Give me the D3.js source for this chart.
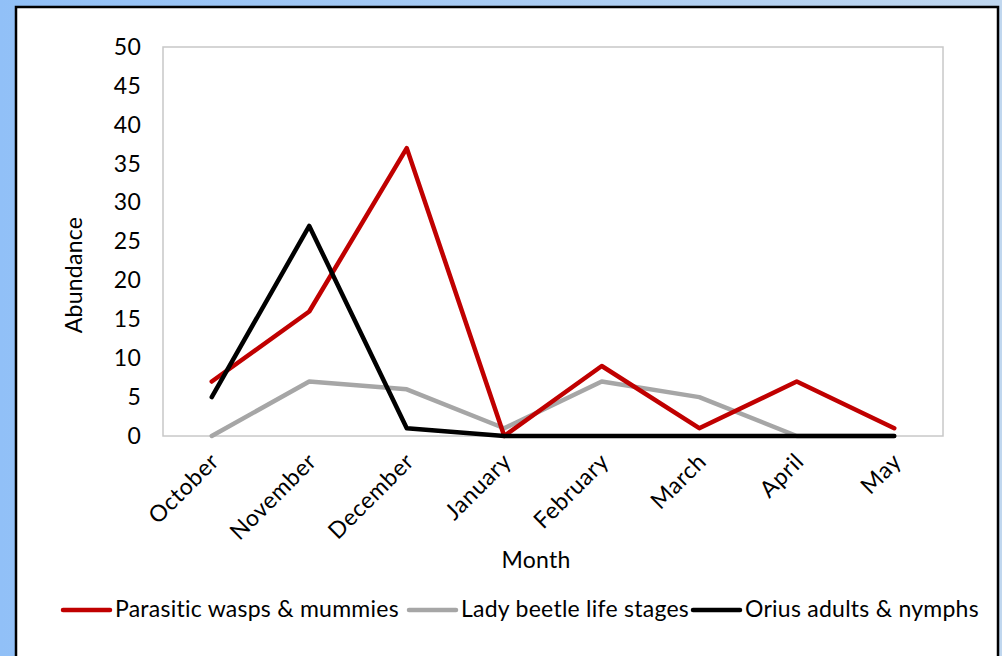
<!DOCTYPE html>
<html>
<head>
<meta charset="utf-8">
<script src="https://cdn.jsdelivr.net/npm/d3@7"></script>
<style>
html,body{margin:0;padding:0;overflow:hidden;background:#fff;}
svg{display:block;}
text{font-family:Lato,"Open Sans",sans-serif;fill:#000;}
</style>
</head>
<body>
<svg id="chart" width="1002" height="656"></svg>
<script>
const months = ["October","November","December","January","February","March","April","May"];
const parasitic = [7,16,37,0,9,1,7,1];
const ladyBeetle = [0,7,6,1,7,5,0,0];
const orius = [5,27,1,0,0,0,0,0];
const yTicks = [0,5,10,15,20,25,30,35,40,45,50];
const seriesNames = ["Parasitic wasps & mummies","Lady beetle life stages","Orius adults & nymphs"];
const seriesColors = ["#c00000","#a6a6a6","#000000"];

const FS = "23px", LS = "0.25px";
const svg = d3.select("#chart");
const defs = svg.append("defs");
const grad = defs.append("linearGradient").attr("id","bg").attr("x1","0").attr("y1","0").attr("x2","1").attr("y2","0");
grad.append("stop").attr("offset","0").attr("stop-color","#91c0f7");
grad.append("stop").attr("offset","1").attr("stop-color","#c0d7ef");
svg.append("rect").attr("x",0).attr("y",0).attr("width",1002).attr("height",656).attr("fill","url(#bg)");
svg.append("rect").attr("x",16).attr("y",7).attr("width",982).attr("height",700)
  .attr("fill","#fff").attr("stroke","#000").attr("stroke-width",2.5);

const L=163,R=943,T=47,B=436;
const x = d3.scalePoint().domain(months).range([L,R]).padding(0.5);
const y = d3.scaleLinear().domain([0,50]).range([B,T]);

// plot frame
svg.append("rect").attr("x",L).attr("y",T).attr("width",R-L).attr("height",B-T)
  .attr("fill","none").attr("stroke","#c8c8c8").attr("stroke-width",1.5);

// y axis
const yAxis = d3.axisLeft(y).tickValues(yTicks).tickSize(0).tickPadding(22);
const yg = svg.append("g").attr("transform",`translate(${L},0)`).call(yAxis);
yg.select(".domain").remove();
yg.selectAll("text").style("font-family","Lato").style("font-size",FS).style("letter-spacing",LS).attr("fill","#000");

// x axis
const xAxis = d3.axisBottom(x).tickSize(0).tickPadding(0);
const xg = svg.append("g").attr("transform",`translate(0,${B})`).call(xAxis);
xg.select(".domain").remove();
xg.selectAll("text").style("font-family","Lato").style("font-size",FS).style("letter-spacing","0.6px").attr("fill","#000")
  .attr("text-anchor","end").attr("dy",null).attr("y",null)
  .attr("transform","translate(8,27) rotate(-45)");

// titles
svg.append("text").attr("transform","translate(82,275) rotate(-90)").attr("text-anchor","middle")
  .style("font-size",FS).style("letter-spacing",LS).text("Abundance");
svg.append("text").attr("x",536).attr("y",568).attr("text-anchor","middle")
  .style("font-size",FS).style("letter-spacing",LS).text("Month");

// lines
const line = d3.line().x((d,i)=>x(months[i])).y(d=>y(d));
const data = [parasitic, ladyBeetle, orius];
[1,0,2].forEach(k=>{
  svg.append("path").datum(data[k]).attr("d",line).attr("fill","none")
    .attr("stroke",seriesColors[k]).attr("stroke-width",4.5)
    .attr("stroke-linejoin","round").attr("stroke-linecap","round");
});

// legend
const legX = [63,409,693];
const leg = svg.append("g");
seriesNames.forEach((n,i)=>{
  leg.append("line").attr("x1",legX[i]).attr("x2",legX[i]+47).attr("y1",610).attr("y2",610)
    .attr("stroke",seriesColors[i]).attr("stroke-width",4.5).attr("stroke-linecap","round");
  leg.append("text").attr("x",legX[i]+52).attr("y",617).style("font-size",FS).style("letter-spacing",LS).text(n);
});
</script>
</body>
</html>
